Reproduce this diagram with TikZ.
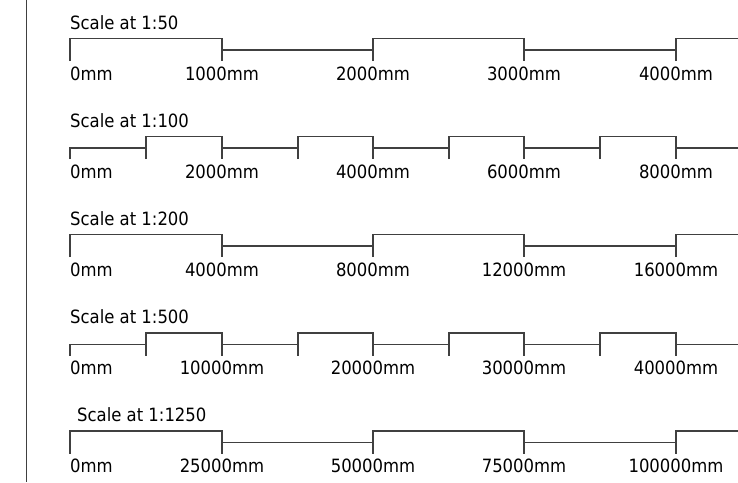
\documentclass[tikz,border=0pt]{standalone}
\usepackage{fontspec}
\setmainfont{DejaVu Sans Condensed}
\begin{document}
\begin{tikzpicture}[x=1pt,y=-1pt,
  bar/.style={draw=black!75, line width=1.1pt},
  lbl/.style={inner sep=0pt, font=\fontsize{18.3}{20}\selectfont, text=black}]
\useasboundingbox (0,0) rectangle (738,482);
\coordinate (ltop) at (26.5,0);
\coordinate (lbot) at (26.5,482);
\draw[bar] (ltop) -- (lbot);
% pattern A rows
\foreach \H/\ttl/\tx/\la/\lb/\lc/\ld/\nm in {38.5/Scale at 1:50/70/1000/2000/3000/4000/a,
  234.5/Scale at 1:200/70/4000/8000/12000/16000/c,
  431/Scale at 1:1250/77/25000/50000/75000/100000/e}{
  \pgfmathsetmacro{\L}{\H+11.5}
  \pgfmathsetmacro{\B}{\H+22.5}
  \pgfmathsetmacro{\T}{\H-9.5}
  \pgfmathsetmacro{\Y}{\H+41.5}
  \node[lbl, anchor=base west] (t\nm) at (\tx,\T) {\ttl};
  \draw[bar] (70,\B) -- (70,\H) -- (222,\H) -- (222,\B);
  \draw[bar] (222,\L) -- (373,\L);
  \draw[bar] (373,\B) -- (373,\H) -- (524,\H) -- (524,\B);
  \draw[bar] (524,\L) -- (676,\L);
  \draw[bar] (676,\B) -- (676,\H) -- (739,\H);
  \node[lbl, anchor=base west] (\nm0) at (70,\Y) {0mm};
  \node[lbl, anchor=base] (\nm1) at (222,\Y) {\la mm};
  \node[lbl, anchor=base] (\nm2) at (373,\Y) {\lb mm};
  \node[lbl, anchor=base] (\nm3) at (524,\Y) {\lc mm};
  \node[lbl, anchor=base] (\nm4) at (676,\Y) {\ld mm};
}
% pattern B rows
\foreach \H/\ttl/\tx/\la/\lb/\lc/\ld/\nm in {136.5/Scale at 1:100/70/2000/4000/6000/8000/b,
  333/Scale at 1:500/70/10000/20000/30000/40000/d}{
  \pgfmathsetmacro{\L}{\H+11.5}
  \pgfmathsetmacro{\B}{\H+22.5}
  \pgfmathsetmacro{\T}{\H-9.5}
  \pgfmathsetmacro{\Y}{\H+41.5}
  \node[lbl, anchor=base west] (t\nm) at (\tx,\T) {\ttl};
  \draw[bar] (70,\B) -- (70,\L) -- (146,\L);
  \draw[bar] (146,\B) -- (146,\H) -- (222,\H) -- (222,\B);
  \draw[bar] (222,\L) -- (298,\L);
  \draw[bar] (298,\B) -- (298,\H) -- (373,\H) -- (373,\B);
  \draw[bar] (373,\L) -- (449,\L);
  \draw[bar] (449,\B) -- (449,\H) -- (524,\H) -- (524,\B);
  \draw[bar] (524,\L) -- (600,\L);
  \draw[bar] (600,\B) -- (600,\H) -- (676,\H) -- (676,\B);
  \draw[bar] (676,\L) -- (739,\L);
  \node[lbl, anchor=base west] (\nm0) at (70,\Y) {0mm};
  \node[lbl, anchor=base] (\nm1) at (222,\Y) {\la mm};
  \node[lbl, anchor=base] (\nm2) at (373,\Y) {\lb mm};
  \node[lbl, anchor=base] (\nm3) at (524,\Y) {\lc mm};
  \node[lbl, anchor=base] (\nm4) at (676,\Y) {\ld mm};
}
\end{tikzpicture}
\end{document}
